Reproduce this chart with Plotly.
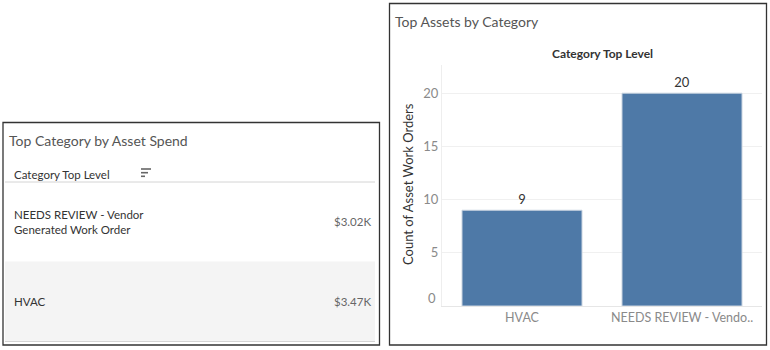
import textwrap
import plotly.graph_objects as go

W, H = 770, 350
FONT = "Lato"

# Top category by asset spend (table rows, in display order)
spend_categories = ["NEEDS REVIEW - Vendor Generated Work Order", "HVAC"]
spend_values = [3020, 3470]

# Top assets by category (bar chart)
bar_categories = ["HVAC", "NEEDS REVIEW - Vendor Generated Work Order"]
bar_counts = [9, 20]
y_ticks = [0, 5, 10, 15, 20]

BAR_COLOR = "#4e79a7"
TICK_FONT = dict(family=FONT, size=13, color="#8a8a8a")


def px(x):
    return x / W


def py(y):
    return 1 - y / H


def fmt_k(v):
    return f"${v / 1000:.2f}K"


def wrap(label, width=22):
    return "<br>".join(textwrap.wrap(label, width))


def truncate(label, n=20):
    return label if len(label) <= n + 2 else label[:n] + ".."


fig = go.Figure()

fig.add_trace(go.Bar(
    x=bar_categories,
    y=bar_counts,
    text=[str(v) for v in bar_counts],
    textposition="outside",
    textfont=dict(family=FONT, size=13, color="#333333"),
    marker=dict(color=BAR_COLOR, line=dict(color="#c9d4e0", width=1)),
    cliponaxis=False,
    hoverinfo="x+y",
))

shapes = []
annotations = []

# Panel frames
shapes.append(dict(type="rect", xref="paper", yref="paper",
                   x0=px(3), x1=px(379.5), y0=py(345), y1=py(122.5),
                   line=dict(color="#333333", width=1.3)))
shapes.append(dict(type="rect", xref="paper", yref="paper",
                   x0=px(389.5), x1=px(766.5), y0=py(345), y1=py(3.5),
                   line=dict(color="#333333", width=1.3)))

# ---- Left panel: table ----
annotations.append(dict(text="Top Category by Asset Spend", xref="paper", yref="paper",
                        x=px(7), y=py(141), xanchor="left", yanchor="middle", showarrow=False,
                        font=dict(family=FONT, size=14, color="#555555")))
annotations.append(dict(text="Category Top Level", xref="paper", yref="paper",
                        x=px(12), y=py(174), xanchor="left", yanchor="middle", showarrow=False,
                        font=dict(family=FONT, size=11.5, color="#333333")))
# sort indicator
for yy, x_end in [(169, 151), (172.7, 148), (176.3, 145)]:
    shapes.append(dict(type="line", xref="paper", yref="paper",
                       x0=px(141), x1=px(x_end), y0=py(yy), y1=py(yy),
                       line=dict(color="#666666", width=1.6)))
# header rule
shapes.append(dict(type="line", xref="paper", yref="paper",
                   x0=px(5), x1=px(375), y0=py(182), y1=py(182),
                   line=dict(color="#d4d4d4", width=1)))

row_top, row_h = 182, 79.5
for i, (cat, val) in enumerate(zip(spend_categories, spend_values)):
    top = row_top + i * row_h
    mid = top + row_h / 2
    if i % 2 == 1:
        shapes.append(dict(type="rect", xref="paper", yref="paper", layer="below",
                           x0=px(5), x1=px(375), y0=py(top + row_h), y1=py(top),
                           fillcolor="#f4f4f4", line=dict(width=0)))
    annotations.append(dict(text=wrap(cat), xref="paper", yref="paper", align="left",
                            x=px(12), y=py(mid), xanchor="left", yanchor="middle", showarrow=False,
                            font=dict(family=FONT, size=11.5, color="#333333")))
    annotations.append(dict(text=fmt_k(val), xref="paper", yref="paper",
                            x=px(373), y=py(mid), xanchor="right", yanchor="middle", showarrow=False,
                            font=dict(family=FONT, size=11.5, color="#666666")))
shapes.append(dict(type="line", xref="paper", yref="paper",
                   x0=px(5), x1=px(375), y0=py(341.5), y1=py(341.5),
                   line=dict(color="#d4d4d4", width=1)))

# ---- Right panel: bar chart ----
annotations.append(dict(text="Top Assets by Category", xref="paper", yref="paper",
                        x=px(393), y=py(22), xanchor="left", yanchor="middle", showarrow=False,
                        font=dict(family=FONT, size=14, color="#555555")))
annotations.append(dict(text="<b>Category Top Level</b>", xref="paper", yref="paper",
                        x=px(602), y=py(53), xanchor="center", yanchor="middle", showarrow=False,
                        font=dict(family=FONT, size=12, color="#333333")))
annotations.append(dict(text="Count of Asset Work Orders", xref="paper", yref="paper",
                        x=px(408), y=py(184), xanchor="center", yanchor="middle", showarrow=False,
                        textangle=-90,
                        font=dict(family=FONT, size=13, color="#333333")))
# baseline tick label sits slightly above the axis line
annotations.append(dict(text=str(y_ticks[0]), xref="paper", yref="y",
                        x=px(438), y=y_ticks[0], yshift=8, xanchor="right", yanchor="middle",
                        showarrow=False, font=TICK_FONT))

fig.update_layout(
    width=W, height=H,
    margin=dict(l=0, r=0, t=0, b=0),
    paper_bgcolor="white",
    plot_bgcolor="white",
    showlegend=False,
    bargap=0.25,
    shapes=shapes,
    annotations=annotations,
    xaxis=dict(
        domain=[px(442), px(762)],
        tickvals=bar_categories,
        ticktext=[truncate(c) for c in bar_categories],
        tickfont=dict(family=FONT, size=12.5, color="#8a8a8a"),
        showline=True, linecolor="#e6e6e6", linewidth=1,
        showgrid=False, ticks="", fixedrange=True,
    ),
    yaxis=dict(
        domain=[py(306), py(65)],
        range=[0, 22.65],
        tickvals=y_ticks[1:],
        tickfont=TICK_FONT,
        showgrid=True, gridcolor="#f0f0f0", gridwidth=1,
        zeroline=False,
        showline=True, linecolor="#eeeeee", linewidth=1,
        ticks="", fixedrange=True,
    ),
)

fig.write_html("out.html")
